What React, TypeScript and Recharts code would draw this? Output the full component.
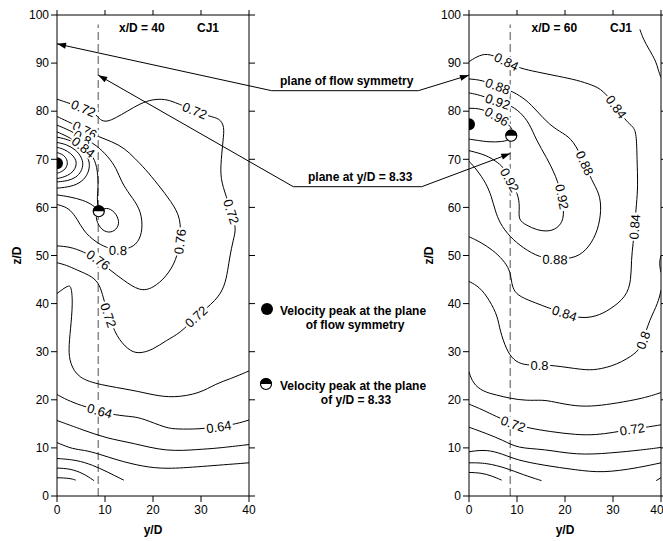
import React from 'react'
import { ComposedChart, Line, Scatter, XAxis, YAxis, ReferenceLine } from 'recharts'

type Pt = [number, number]
type Contour = { level: string; pts: Pt[]; labels: number[] }

// tick values
const yTicks = [0, 10, 20, 30, 40]
const zTicks = [0, 10, 20, 30, 40, 50, 60, 70, 80, 90, 100]

// y/D position of the dashed plane, as drawn
const PLANE_Y = 8.6

// ---------- x/D = 40 ----------
const l072: Contour = {
  level: '0.72',
  pts: [[0, 82.5], [2.7, 81.6], [5.5, 80.6], [8.4, 79.2], [8.9, 78.2], [10.3, 77.7], [12.4, 78.7], [14.5, 79.9], [17.3, 81.6], [20, 82.5], [22.5, 82.5], [24.2, 82], [28.7, 80.1], [31.8, 78.9], [33.9, 78.5], [34.9, 76.8], [34.6, 74], [34.2, 69.9], [34, 66], [35.3, 62.2], [36.3, 59.1], [37.4, 55.7], [36.7, 53.2], [36, 49.8], [35.6, 47], [34.9, 43.5], [33.2, 40.7], [29, 37.3], [25.6, 33.8], [22.8, 32.4], [20, 30.4], [16.9, 29.5], [14.8, 30.4], [12.4, 33.1], [10.7, 37.6], [9.6, 41.4], [8.9, 43.9], [7.5, 45.6], [4.1, 47], [2, 48], [0, 48.5]],
  labels: [2, 12, 20, 27, 34],
}
const l076: Contour = {
  level: '0.76',
  pts: [[0, 78.9], [3, 77.5], [5.8, 76.1], [8.6, 74.7], [11.4, 73.7], [14.1, 72.3], [16.2, 70.2], [18.3, 68.1], [21.1, 64.7], [23.8, 61.2], [25.9, 57.7], [25.6, 52.9], [24.9, 49.1], [22.8, 45.6], [20, 43.2], [17.3, 42.5], [13.8, 44.9], [11, 47], [8.6, 49.1], [5.5, 50.8], [2.7, 51.8], [0, 52]],
  labels: [2, 11, 18],
}
const l080: Contour = {
  level: '0.8',
  pts: [[0, 77.1], [2.7, 76], [5.3, 74.5], [8.2, 73], [10.7, 70.5], [12.4, 68.1], [13.4, 65.3], [15.2, 62.6], [17.3, 59.8], [17.9, 56.3], [17.3, 53.2], [15.5, 51.5], [12.7, 51.1], [10.3, 51.6], [7.9, 52.9], [5.6, 55], [4.2, 57.6], [2.7, 59.6], [1.2, 60.3], [0, 60.6]],
  labels: [2, 12],
}
const l084: Contour = {
  level: '0.84',
  pts: [[0, 75.7], [2.8, 74.5], [5.5, 72.5], [7.7, 70.6], [8.5, 67.6], [8.6, 64], [8.3, 61.8], [8.7, 59.2], [7.9, 58.1], [8.9, 55.6], [10.7, 54.6], [12.4, 55.3], [13.1, 57], [12.1, 59.1], [10.3, 60.1], [8.7, 59.2], [7.5, 60.5], [5.5, 61.5], [2.7, 62.2], [0, 62.6]],
  labels: [2],
}
const l088: Pt[] = [[0, 74.6], [2.5, 74.1], [4.7, 72.8], [6.3, 70.8], [6.9, 69], [6.5, 67], [5.2, 65.3], [3, 64.3], [0, 64]]
const l092: Pt[] = [[0, 73.5], [2, 73.1], [3.9, 72], [5.1, 70.5], [5.5, 69], [5.1, 67.5], [4, 66.2], [2.2, 65.5], [0, 65.3]]
const l096: Pt[] = [[0, 72.5], [1.5, 72.1], [2.9, 71.2], [3.8, 70.2], [4.1, 69.2], [3.8, 68], [2.9, 67], [1.5, 66.3], [0, 66]]
const l100: Pt[] = [[0, 71.4], [1, 71.1], [1.8, 70.5], [2.3, 69.3], [1.9, 68.1], [1, 67.4], [0, 67.1]]
const l068: Pt[] = [[0, 42.1], [2.4, 43.9], [3, 43.5], [3.3, 40.1], [2.8, 34.5], [2.4, 30.4], [2.7, 27.6], [4.4, 24.5], [8.9, 23.1], [15.9, 22], [20, 21], [24.2, 20.4], [29.7, 21.3], [33.2, 23.4], [36, 24.3], [40, 26]]
const l064: Contour = {
  level: '0.64',
  pts: [[0, 21.1], [2, 20], [5, 18.8], [8.9, 17.7], [12.1, 16.8], [15.9, 16.5], [17.9, 16.1], [22.8, 14.1], [25, 13.9], [29.7, 13.9], [33.7, 14.4], [37.4, 15], [40, 15.8]],
  labels: [3, 10],
}
const l060: Pt[] = [[0, 15.7], [5.5, 13.7], [10.3, 12], [15.9, 11], [22.8, 9.2], [29.7, 9.7], [33.2, 9.9], [40, 10.7]]
const l056: Pt[] = [[0, 11.1], [3.4, 9.7], [5.5, 9.6], [8.9, 8.7], [12.4, 7.5], [17.9, 6.1], [22.8, 5.6], [29.7, 6.1], [40, 6.9]]
const l052: Pt[] = [[0, 7.8], [4.1, 7.5], [7.5, 6.4], [10.3, 5.1], [13.9, 3.3]]
const l048: Pt[] = [[0, 5.8], [2.7, 5.7], [5.5, 4.7], [7.7, 3.2]]
const l044: Pt[] = [[0, 3.8], [2.7, 3.7], [3.9, 3.3]]
const leftSymPeak = [{ y: 0, z: 69.2 }]
const leftPlanePeak = [{ y: 8.7, z: 59.2 }]

// ---------- x/D = 60 ----------
const r084: Contour = {
  level: '0.84',
  pts: [[0, 90.3], [2.2, 91.7], [4.3, 92], [7.8, 90.3], [10.6, 88.9], [14, 88.2], [18.9, 87.2], [22.4, 86.5], [25.8, 85.4], [27.9, 84.4], [30.7, 80.9], [32.8, 77.8], [34.2, 76.8], [34.9, 75.4], [35, 70], [35.2, 64.3], [34.9, 60.9], [34.5, 56], [34.2, 52.5], [33.8, 49.1], [33.8, 44.9], [32.8, 41.4], [29.3, 38.7], [26.5, 37.3], [23.1, 36.9], [19.9, 38], [16.8, 39], [14, 40.1], [10.6, 41.4], [9.2, 42.8], [8.8, 44.9], [8.5, 47], [7.1, 49.1], [5, 51.1], [2.2, 52.9], [0, 53.9]],
  labels: [3, 10, 17, 25],
}
const r088: Contour = {
  level: '0.88',
  pts: [[0, 86.7], [2.6, 86.5], [6, 85.2], [9.2, 84.1], [12, 82.3], [14, 80.2], [16.8, 77.1], [19.6, 75.4], [21.7, 74], [24.1, 69.2], [25.5, 65.7], [27.2, 62.9], [27.6, 59.5], [26.9, 55.3], [25.1, 51.8], [22.4, 49.4], [17.9, 49.2], [14.7, 49.6], [11.3, 51.5], [8.5, 53.9], [6.4, 56.7], [5.4, 59.5], [4.7, 62.2], [3.6, 65], [1.5, 68], [0, 69.6]],
  labels: [2, 9, 16],
}
const r092: Contour = {
  level: '0.92',
  pts: [[0, 83.8], [2.2, 83.4], [6, 82], [8.5, 81.3], [10.6, 79.9], [12.6, 77.5], [14, 74], [16.1, 70.5], [18.2, 66.4], [19.4, 62.2], [19.9, 58.1], [18.9, 56], [16.8, 54.9], [14, 55.3], [12, 56.3], [10.2, 57.4], [10.6, 60.1], [10.2, 62.9], [8.5, 65.7], [7.1, 68.5], [5.7, 69.5], [3.6, 70.9], [0, 71.8]],
  labels: [2, 9, 18],
}
const r096: Contour = {
  level: '0.96',
  pts: [[0, 80.6], [2.6, 80.6], [5.8, 78.9], [8.5, 77.2], [9.4, 75.5], [8.8, 74.2], [7, 73.6], [4, 73.6], [2, 73.9], [0, 74.2]],
  labels: [2],
}
const r080: Contour = {
  level: '0.8',
  pts: [[0, 44.6], [2.2, 43.5], [4.3, 40.7], [6, 37.3], [6.4, 34.5], [7.8, 30.4], [9.2, 28.3], [11.3, 27.2], [14.7, 27.2], [17.5, 27.2], [23.8, 26.2], [26.5, 26.2], [30.7, 27.2], [34.9, 29.7], [35.6, 31], [36.3, 32.4], [37.6, 36.6], [39.4, 40.1], [40, 42.8]],
  labels: [8, 15],
}
const r080top: Pt[] = [[35.6, 97], [36.3, 95], [37.6, 92.7], [39, 90.3], [39.4, 88.6], [40, 87]]
const r080edge: Pt[] = [[40, 50], [39.6, 48.4], [40, 46.5]]
const r076: Pt[] = [[0, 25.8], [0.8, 23.4], [2.9, 21.7], [5.7, 21], [8.5, 20.3], [12, 19.8], [15.4, 20], [17.5, 19.6], [22.4, 18.6], [26.5, 18.7], [30.7, 19.3], [36.3, 20.3], [40, 21.5]]
const r072: Contour = {
  level: '0.72',
  pts: [[0, 19.1], [2.9, 17.9], [5.5, 16.6], [9.2, 15], [12.6, 14.1], [16.8, 13.4], [22.4, 12.7], [26.5, 12.7], [30, 13.2], [34, 13.9], [37.6, 14.4], [40, 14.8]],
  labels: [3, 9],
}
const r068: Pt[] = [[0, 14.3], [3.6, 13], [7.1, 11.6], [10.2, 9.9], [15.4, 9.8], [22.4, 8.5], [29.3, 8.9], [36.3, 9.6], [40, 10.1]]
const r064: Pt[] = [[0, 9.2], [3.6, 9.7], [7.1, 8.7], [9.9, 7.5], [15.4, 6.4], [22.4, 5.4], [27.9, 4.8], [34.9, 5.8], [40, 6.9]]
const r060: Pt[] = [[0, 6.9], [3.6, 6.9], [7.8, 5.8], [11.3, 4.4], [15.1, 3.2]]
const r056: Pt[] = [[0, 4.9], [2.6, 4.8], [4.7, 4.2], [6.8, 3.3]]
const r052corner: Pt[] = [[39, 3.2], [40, 3.8]]
const rightSymPeak = [{ y: 0, z: 77.3 }]
const rightPlanePeak = [{ y: 8.8, z: 74.9 }]

// annotation arrow tips, in panel coordinates [y/D, z/D]
const symArrowTips = { left: [0, 94] as Pt, right: [0, 87.5] as Pt }
const planeArrowTips = { left: [PLANE_Y, 87.5] as Pt, right: [PLANE_Y, 71.2] as Pt }

// ---------- layout ----------
const FONT = '"Liberation Sans", Arial, Helvetica, sans-serif'
const H = 541
const PLOT_TOP = 15
const PLOT_BOTTOM = 496
const PLOT_W = 192
const LEFT_X0 = 57
const RIGHT_X0 = 469
const PX_Y = PLOT_W / 40
const PX_Z = (PLOT_BOTTOM - PLOT_TOP) / 100

const lx = (y: number) => LEFT_X0 + y * PX_Y
const rx = (y: number) => RIGHT_X0 + y * PX_Y
const pz = (z: number) => PLOT_BOTTOM - z * PX_Z

type LabelPt = { y: number; z: number; text: string; angle: number }

function contourLabels(cs: Contour[]): LabelPt[] {
  const out: LabelPt[] = []
  cs.forEach(c => {
    c.labels.forEach(i => {
      const a = c.pts[i - 1]
      const b = c.pts[i + 1]
      let ang = (Math.atan2(-(b[1] - a[1]) * PX_Z, (b[0] - a[0]) * PX_Y) * 180) / Math.PI
      if (ang > 90) ang -= 180
      if (ang < -90) ang += 180
      out.push({ y: c.pts[i][0], z: c.pts[i][1], text: c.level, angle: ang })
    })
  })
  return out
}

const toRows = (pts: Pt[]) => pts.map(([y, z]) => ({ y, z }))

function textWidth(s: string, fs: number) {
  let w = 0
  for (const ch of s) w += ch === '.' ? fs * 0.28 : fs * 0.556
  return w
}

// eslint-disable-next-line @typescript-eslint/no-explicit-any
const ContourLabel = (props: any) => {
  const { cx, cy, payload } = props
  if (cx == null || cy == null) return null
  const fs = 13
  const w = textWidth(payload.text, fs) + 3
  return (
    <g transform={`translate(${cx},${cy}) rotate(${payload.angle})`}>
      <rect x={-w / 2} y={-6} width={w} height={12} fill="#fff" />
      <text x={0} y={0} dy="0.36em" textAnchor="middle" fontSize={fs} fontFamily={FONT} fill="#000">
        {payload.text}
      </text>
    </g>
  )
}

const FullDot = ({ cx, cy }: { cx: number; cy: number }) => <circle cx={cx} cy={cy} r={6} fill="#000" />

const HalfDot = ({ cx, cy }: { cx: number; cy: number }) => (
  <g>
    <circle cx={cx} cy={cy} r={5.5} fill="#fff" stroke="#000" strokeWidth={1.2} />
    <path d={`M ${cx - 6} ${cy} A 6 6 0 0 1 ${cx + 6} ${cy} Z`} fill="#000" />
  </g>
)

type PanelProps = {
  left: number
  width: number
  margin: { top: number; right: number; bottom: number; left: number }
  rightAxisWidth: number
  contours: Contour[]
  plain: Pt[][]
  symPeak: { y: number; z: number }[]
  planePeak: { y: number; z: number }[]
}

const axisStroke = { stroke: '#000', strokeWidth: 1 }
const tickStyle = { fontSize: 12, fill: '#000', fontFamily: FONT }
const blank = () => ''

function Panel({ left, width, margin, rightAxisWidth, contours, plain, symPeak, planePeak }: PanelProps) {
  const labels = contourLabels(contours)
  const lines = [...contours.map(c => c.pts), ...plain]
  return (
    <div style={{ position: 'absolute', left, top: 0, width, height: H }}>
      <ComposedChart width={width} height={H} margin={margin}>
        <XAxis type="number" dataKey="y" domain={[0, 40]} ticks={yTicks} allowDataOverflow
          height={40} tickSize={6} tickMargin={3} axisLine={axisStroke} tickLine={axisStroke} tick={tickStyle} />
        <XAxis xAxisId="top" orientation="top" type="number" dataKey="y" domain={[0, 40]} ticks={yTicks} allowDataOverflow
          height={5} tickSize={5} axisLine={axisStroke} tickLine={axisStroke} tickFormatter={blank} />
        <YAxis type="number" dataKey="z" domain={[0, 100]} ticks={zTicks} allowDataOverflow
          width={40} tickSize={6} tickMargin={2} axisLine={axisStroke} tickLine={axisStroke} tick={tickStyle} />
        <YAxis yAxisId="right" orientation="right" type="number" dataKey="z" domain={[0, 100]} ticks={zTicks} allowDataOverflow
          width={rightAxisWidth} tickSize={6} axisLine={axisStroke} tickLine={axisStroke} tickFormatter={blank} />
        <ReferenceLine segment={[{ x: PLANE_Y, y: 0 }, { x: PLANE_Y, y: 98 }]} stroke="#888" strokeWidth={1.5} strokeDasharray="8 4" />
        {lines.map((pts, i) => (
          <Line key={`c${i}`} data={toRows(pts)} dataKey="z" type="basis" stroke="#000" strokeWidth={1}
            dot={false} activeDot={false} isAnimationActive={false} />
        ))}
        <Scatter data={labels} dataKey="z" shape={ContourLabel} isAnimationActive={false} />
        <Scatter data={symPeak} dataKey="z" shape={FullDot} isAnimationActive={false} />
        <Scatter data={planePeak} dataKey="z" shape={HalfDot} isAnimationActive={false} />
      </ComposedChart>
    </div>
  )
}

function arrowHead(from: Pt, to: Pt) {
  const dx = to[0] - from[0]
  const dy = to[1] - from[1]
  const len = Math.hypot(dx, dy)
  const ux = dx / len
  const uy = dy / len
  const L = 9
  const W = 3
  const bx = to[0] - ux * L
  const by = to[1] - uy * L
  return `${to[0]},${to[1]} ${bx - uy * W},${by + ux * W} ${bx + uy * W},${by - ux * W}`
}

function Arrow({ pts }: { pts: Pt[] }) {
  const n = pts.length
  return (
    <g>
      <polyline points={pts.map(p => p.join(',')).join(' ')} fill="none" stroke="#000" strokeWidth={1} />
      <polygon points={arrowHead(pts[1], pts[0])} fill="#000" />
      <polygon points={arrowHead(pts[n - 2], pts[n - 1])} fill="#000" />
    </g>
  )
}

function Overlay() {
  const bold = { fontFamily: FONT, fontWeight: 700, fontSize: 12, fill: '#000' }
  const symArrow: Pt[] = [
    [lx(symArrowTips.left[0]), pz(symArrowTips.left[1])],
    [271.7, 90.7],
    [418.3, 90.7],
    [rx(symArrowTips.right[0]), pz(symArrowTips.right[1])],
  ]
  const planeArrow: Pt[] = [
    [lx(planeArrowTips.left[0]), pz(planeArrowTips.left[1])],
    [293.3, 186.7],
    [421.7, 186.7],
    [rx(planeArrowTips.right[0]), pz(planeArrowTips.right[1])],
  ]
  return (
    <svg width={663} height={H} style={{ position: 'absolute', left: 0, top: 0, pointerEvents: 'none' }}>
      <text x={119} y={32} {...bold}>x/D = 40</text>
      <text x={197} y={32} {...bold}>CJ1</text>
      <text x={531.5} y={32} {...bold}>x/D = 60</text>
      <text x={610} y={32} {...bold}>CJ1</text>

      <text x={lx(20)} y={534} textAnchor="middle" {...bold}>y/D</text>
      <text x={rx(20)} y={534} textAnchor="middle" {...bold}>y/D</text>
      <text transform={`translate(21,${pz(50)}) rotate(-90)`} textAnchor="middle" {...bold}>z/D</text>
      <text transform={`translate(433,${pz(50)}) rotate(-90)`} textAnchor="middle" {...bold}>z/D</text>

      <Arrow pts={symArrow} />
      <Arrow pts={planeArrow} />
      <text x={280} y={84.5} {...bold}>plane of flow symmetry</text>
      <text x={308} y={181} {...bold}>plane at y/D = 8.33</text>

      <FullDot cx={267} cy={309} />
      <text x={280} y={314.5} {...bold}>Velocity peak at the plane</text>
      <text x={355} y={328.5} textAnchor="middle" {...bold}>of flow symmetry</text>
      <HalfDot cx={266} cy={384} />
      <text x={280} y={389.5} {...bold}>Velocity peak at the plane</text>
      <text x={356} y={403.5} textAnchor="middle" {...bold}>of y/D = 8.33</text>
    </svg>
  )
}

export default function App() {
  return (
    <div style={{ position: 'absolute', left: 0, top: 0, width: 663, height: H, background: '#fff', overflow: 'hidden' }}>
      <Panel
        left={0}
        width={262}
        margin={{ top: PLOT_TOP - 5, right: 3, bottom: H - PLOT_BOTTOM - 40, left: LEFT_X0 - 40 }}
        rightAxisWidth={10}
        contours={[l072, l076, l080, l084, l064]}
        plain={[l088, l092, l096, l100, l068, l060, l056, l052, l048, l044]}
        symPeak={leftSymPeak}
        planePeak={leftPlanePeak}
      />
      <Panel
        left={410}
        width={253}
        margin={{ top: PLOT_TOP - 5, right: 0, bottom: H - PLOT_BOTTOM - 40, left: RIGHT_X0 - 410 - 40 }}
        rightAxisWidth={2}
        contours={[r084, r088, r092, r096, r080, r072]}
        plain={[r080top, r080edge, r076, r068, r064, r060, r056, r052corner]}
        symPeak={rightSymPeak}
        planePeak={rightPlanePeak}
      />
      <Overlay />
    </div>
  )
}
